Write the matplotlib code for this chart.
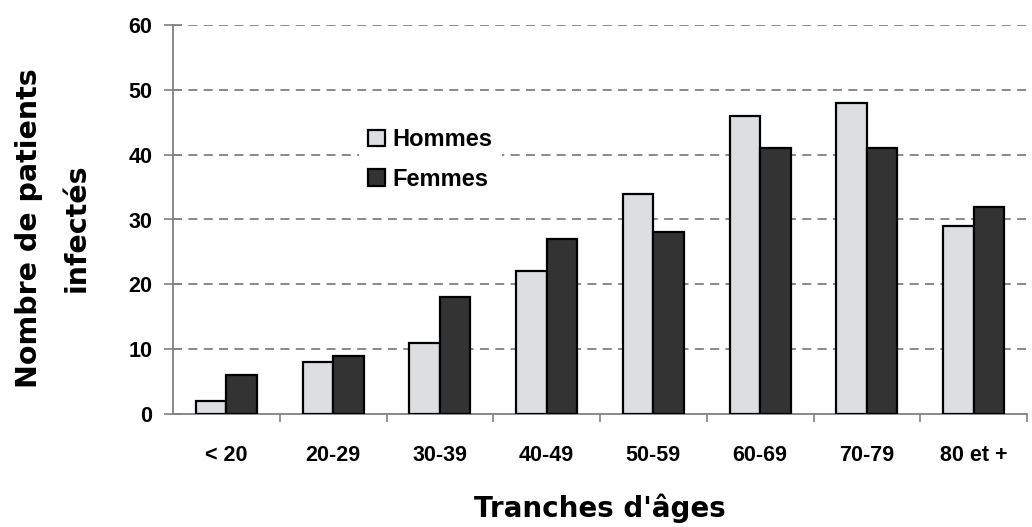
import matplotlib
matplotlib.use("Agg")
import matplotlib.pyplot as plt
import numpy as np

categories = ["< 20", "20-29", "30-39", "40-49", "50-59", "60-69", "70-79", "80 et +"]
hommes = [2, 8, 11, 22, 34, 46, 48, 29]
femmes = [6, 9, 18, 27, 28, 41, 41, 32]
y_ticks = [0, 10, 20, 30, 40, 50, 60]

fig = plt.figure(figsize=(10.32, 5.27), dpi=100)
ax = fig.add_axes([173 / 1032, 113 / 527, 854 / 1032, 389 / 527])

x = np.arange(len(categories))
w = 0.285

# Grille pointillée derrière les barres
for yv in y_ticks[1:]:
    ax.axhline(yv, color="#808080", linestyle=(0, (5, 3.5)), linewidth=1.3, zorder=0)

ax.bar(x - w / 2, hommes, w, color="#dcdee0", edgecolor="black", linewidth=1.6,
       label="Hommes", zorder=3)
ax.bar(x + w / 2, femmes, w, color="#333333", edgecolor="black", linewidth=1.6,
       label="Femmes", zorder=3)

ax.set_xlim(-0.5, 7.364)
ax.set_ylim(0, 60)

for s in ["top", "right"]:
    ax.spines[s].set_visible(False)
ax.spines["left"].set_color("#808080")
ax.spines["bottom"].set_color("#808080")
ax.spines["left"].set_linewidth(1.3)
ax.spines["bottom"].set_linewidth(1.3)

ax.set_yticks(y_ticks)
ax.set_yticklabels([str(v) for v in y_ticks], fontfamily="Liberation Sans",
                   fontweight="bold", fontsize=15.5)
ax.tick_params(axis="y", direction="inout", length=13, width=1.2, color="#808080", pad=8.5)

ax.set_xticks(x)
ax.set_xticklabels(categories, fontfamily="Liberation Sans", fontweight="bold", fontsize=15.5)
ax.set_xticks(np.arange(len(categories)) + 0.5, minor=True)
ax.tick_params(axis="x", which="major", length=0, pad=22)
ax.tick_params(axis="x", which="minor", direction="out", length=6, width=1.2, color="#808080")

ax.set_xlabel("Tranches d'âges", fontfamily="DejaVu Sans", fontweight="bold",
              fontsize=20, labelpad=20)
fig.text(0.051, (527 - 228) / 527, "Nombre de patients\ninfectés", rotation=90,
         ha="center", va="center", multialignment="center",
         fontfamily="DejaVu Sans", fontweight="bold", fontsize=20.5, linespacing=1.9)

leg = ax.legend(loc="upper left", bbox_to_anchor=(174 / 854, 1 - 82 / 389),
                frameon=True, framealpha=1, facecolor="white", edgecolor="none",
                prop={"family": "Liberation Sans", "weight": "bold", "size": 17},
                handlelength=0.72, handleheight=0.72, handletextpad=0.3,
                labelspacing=0.7, borderpad=0.4, fancybox=False)
leg.set_zorder(5)

fig.savefig("out.png", dpi=100)
